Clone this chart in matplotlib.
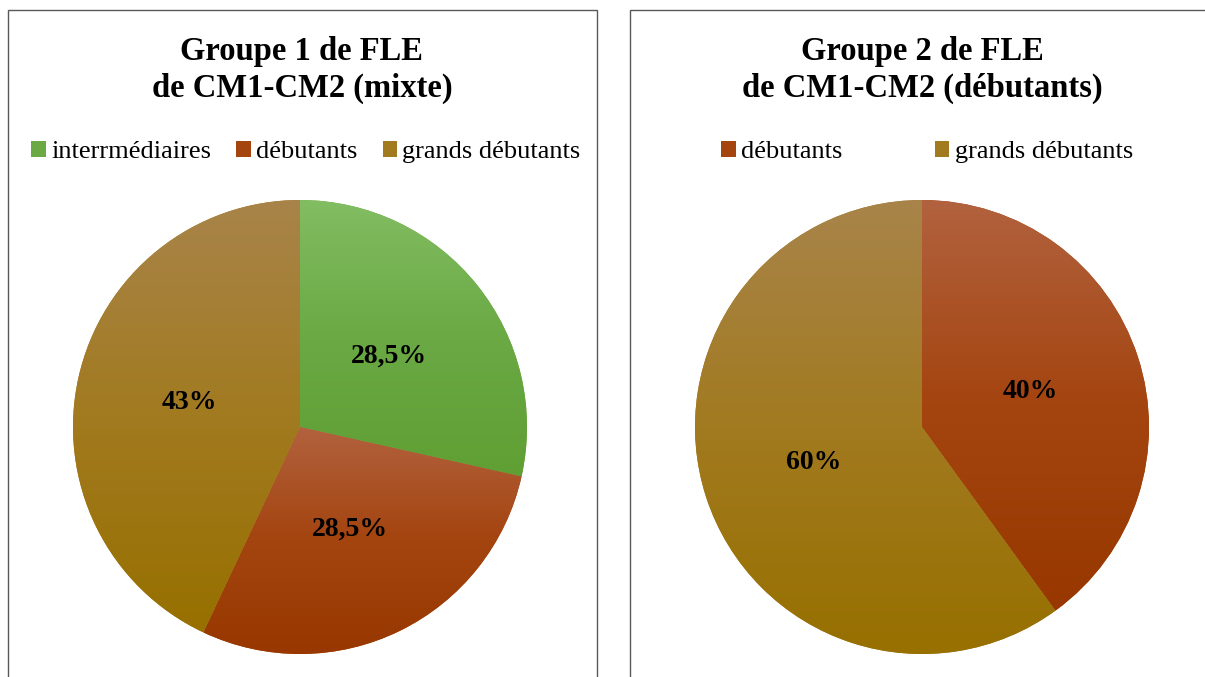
import numpy as np
import matplotlib
matplotlib.use("Agg")
import matplotlib.pyplot as plt
from matplotlib.patches import Rectangle
from matplotlib.colors import LinearSegmentedColormap

plt.rcParams['font.family'] = ['Liberation Serif', 'DejaVu Serif']

# données
titres = ["Groupe 1 de FLE\nde CM1-CM2 (mixte)",
          "Groupe 2 de FLE\nde CM1-CM2 (débutants)"]
cat_g1 = ["interrmédiaires", "débutants", "grands débutants"]
val_g1 = [28.5, 28.5, 43]
lab_g1 = ["28,5%", "28,5%", "43%"]
cat_g2 = ["débutants", "grands débutants"]
val_g2 = [40, 60]
lab_g2 = ["40%", "60%"]

# dégradés (haut, milieu, bas) par catégorie
degrades = {
    "interrmédiaires": ["#82bd62", "#6aa944", "#5f9f33"],
    "débutants": ["#b2623f", "#a4440f", "#983800"],
    "grands débutants": ["#a8844a", "#a27a20", "#977000"],
}

W, H = 1205, 677
fig = plt.figure(figsize=(W / 100, H / 100), dpi=100)

def px_axes(cx, cy, r):
    return fig.add_axes([(cx - r) / W, (H - cy - r) / H, 2 * r / W, 2 * r / H])

def camembert(ax, valeurs, cats, labels):
    couleurs = [degrades[c][1] for c in cats]
    wedges, _, autotexts = ax.pie(valeurs, colors=couleurs, startangle=90,
                                  counterclock=False, autopct='%1.1f%%',
                                  pctdistance=0.5, radius=1,
                                  wedgeprops=dict(linewidth=0))
    for t, lab in zip(autotexts, labels):
        t.set_text(lab)
        t.set_fontsize(20)
        t.set_fontweight('bold')
        t.set_color('black')
        t.set_zorder(5)
    # remplissage en dégradé vertical, une boîte par secteur
    for w, c in zip(wedges, cats):
        ext = w.get_path().get_extents()
        cmap = LinearSegmentedColormap.from_list(c, degrades[c][::-1])
        grad = np.linspace(0, 1, 256).reshape(-1, 1)
        im = ax.imshow(grad, cmap=cmap, origin='lower', aspect='auto',
                       extent=[ext.x0, ext.x1, ext.y0, ext.y1], zorder=2)
        im.set_clip_path(w)
    ax.set_xlim(-1, 1)
    ax.set_ylim(-1, 1)
    ax.axis('off')
    return wedges

ax1 = px_axes(300, 427, 227)
w1 = camembert(ax1, val_g1, cat_g1, lab_g1)
ax2 = px_axes(922, 427, 227)
w2 = camembert(ax2, val_g2, cat_g2, lab_g2)

# cadres des deux graphiques
for x0, x1 in [(8, 597), (630, 1220)]:
    fig.patches.append(Rectangle((x0 / W, -0.05), (x1 - x0) / W, 1.05 - 10 / H,
                                 transform=fig.transFigure, fill=False,
                                 edgecolor='#595959', linewidth=1.0))

# titres
fig.text(302 / W, 1 - 70 / H, titres[0], ha='center', va='center',
         fontsize=23.5, fontweight='bold', linespacing=1.27)
fig.text(922 / W, 1 - 70 / H, titres[1], ha='center', va='center',
         fontsize=23.5, fontweight='bold', linespacing=1.27)

# légendes
fig.legend(w1, cat_g1, loc='center', bbox_to_anchor=(306 / W, 1 - 152 / H),
           ncol=3, frameon=False, fontsize=19, handlelength=0.55,
           handleheight=0.55, handletextpad=0.2, columnspacing=0.95,
           borderaxespad=0, borderpad=0)
fig.legend(w2, cat_g2, loc='center', bbox_to_anchor=(927 / W, 1 - 152 / H),
           ncol=2, frameon=False, fontsize=19, handlelength=0.55,
           handleheight=0.55, handletextpad=0.2, columnspacing=3.5,
           borderaxespad=0, borderpad=0)

fig.savefig("out.png", dpi=100)
